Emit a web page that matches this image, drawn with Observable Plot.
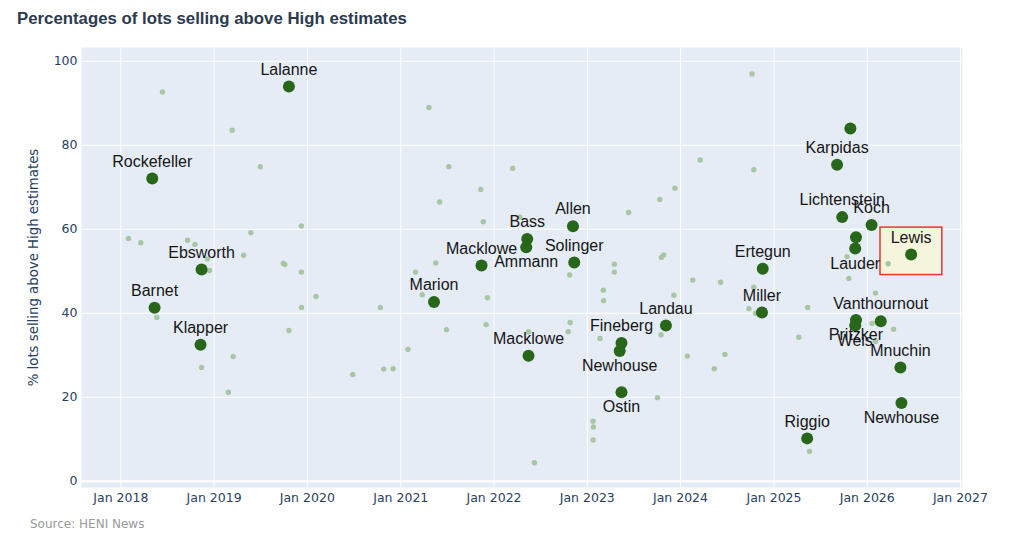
<!DOCTYPE html>
<html><head><meta charset="utf-8">
<script src="https://cdn.jsdelivr.net/npm/d3@7"></script>
<script src="https://cdn.jsdelivr.net/npm/@observablehq/plot@0.6"></script>
<style>
body{margin:0;background:#fff;width:1024px;height:542px;position:relative;overflow:hidden;font-family:"Liberation Sans",Arial,sans-serif}
#title{position:absolute;left:17px;top:9px;font-weight:bold;font-size:16.8px;color:#2c3a4e;white-space:nowrap}
#chart{position:absolute;left:0;top:38px}
#caption{position:absolute;left:30px;top:517px;font-family:"DejaVu Sans",sans-serif;font-size:12px;color:#9a9a9a}
</style></head>
<body>
<div id="title">Percentages of lots selling above High estimates</div>
<div id="chart"></div>
<div id="caption">Source: HENI News</div>
<script>
// Highlighted (labelled) sales
const bigNames = ["Rockefeller","Barnet","Ebsworth","Klapper","Lalanne","Marion","Macklowe","Bass","Ammann","Allen","Solinger","Macklowe","Fineberg","Newhouse","Ostin","Landau","Ertegun","Miller","Riggio","","Karpidas","Lichtenstein","Koch","","Lauder","Lewis","Pritzker","Weis","Vanthournout","Mnuchin","Newhouse"];
const bigDates = ["2018-05-04","2018-05-13","2018-11-13","2018-11-09","2019-10-21","2021-05-11","2021-11-13","2022-05-11","2022-05-07","2022-11-06","2022-11-11","2022-05-16","2023-05-15","2023-05-08","2023-05-15","2023-11-05","2024-11-18","2024-11-15","2025-05-11","2025-10-27","2025-09-05","2025-09-25","2026-01-18","2025-11-18","2025-11-15","2026-06-22","2025-11-18","2025-11-15","2026-02-23","2026-05-11","2026-05-15"];
const bigValues = [72.1,41.3,50.4,32.5,94.0,42.7,51.4,57.7,55.7,60.7,52.1,29.9,32.9,31.0,21.2,37.1,50.6,40.2,10.2,84.0,75.4,62.9,61.0,58.1,55.4,54.0,38.4,37.1,38.1,27.1,18.6];
const belowNames = ["Ammann","Newhouse","Ostin","Lauder","Pritzker","Weis"];
const highlightName = "Lewis";

// Other sales
const smallDates = ["2018-06-13","2019-03-13","2019-07-01","2019-12-09","2019-05-25","2018-01-31","2018-03-20","2018-09-19","2018-10-18","2019-04-27","2018-12-06","2018-12-14","2019-09-29","2019-10-05","2019-12-09","2020-02-04","2019-12-09","2020-10-13","2019-10-21","2018-05-22","2019-03-17","2018-11-13","2019-02-26","2020-06-27","2020-10-26","2020-12-02","2021-04-21","2021-07-08","2022-03-15","2021-11-10","2021-06-02","2021-11-20","2022-04-12","2023-06-12","2023-10-12","2023-12-10","2024-03-18","2021-05-18","2023-10-18","2023-10-27","2023-04-17","2021-02-28","2023-04-17","2022-10-24","2021-03-26","2021-12-06","2023-03-05","2023-03-06","2024-02-18","2023-12-06","2024-06-06","2021-06-29","2021-12-01","2022-05-16","2022-10-26","2022-10-18","2023-02-20","2023-10-17","2021-01-29","2024-01-28","2024-05-12","2023-10-03","2023-01-24","2023-01-25","2023-01-24","2022-06-08","2024-10-07","2024-10-14","2025-10-14","2026-03-24","2025-10-21","2026-02-02","2024-10-14","2024-09-25","2024-10-21","2025-05-13","2026-01-20","2026-04-14","2026-02-02","2025-04-08","2024-06-23","2025-05-20"];
const smallValues = [92.7,83.6,74.9,60.8,59.2,57.8,56.8,57.4,56.4,53.8,52.9,50.2,51.9,51.6,49.8,44.0,41.4,41.4,35.9,39.0,29.7,27.1,21.2,25.4,26.7,26.8,89.0,74.9,74.5,69.5,66.5,61.8,62.9,64.0,67.1,69.8,76.5,52.0,53.3,53.9,51.7,49.8,49.8,49.1,44.4,43.7,45.5,43.0,47.9,44.3,47.4,36.1,37.3,35.6,37.8,35.6,34.0,34.9,31.4,29.8,26.8,19.9,14.3,12.9,9.8,4.4,97.0,74.2,53.5,51.8,48.3,44.8,46.2,41.1,40.0,41.4,37.6,36.2,33.3,34.3,30.2,7.1];

// Axes
const xTickDates = ["2018-01-01","2019-01-01","2020-01-01","2021-01-01","2022-01-01","2023-01-01","2024-01-01","2025-01-01","2026-01-01","2027-01-01"];
const xDomain = ["2017-07-31","2027-01-09"];
const yTicks = [0,20,40,60,80,100];
const yDomain = [-1.5,103.3];
const yLabel = "% lots selling above High estimates";

const parse = s => new Date(s + "T00:00:00Z");
const big = bigNames.map((n,i) => ({name:n, date:parse(bigDates[i]), value:bigValues[i]}));
const small = smallDates.map((d,i) => ({date:parse(d), value:smallValues[i]}));
const xTicks = xTickDates.map(parse);
const hl = big.filter(d => d.name === highlightName).map(d => ({
  x1: d3.utcMonth.offset(d.date,-4), x2: d3.utcMonth.offset(d.date,4), y1: d.value-4.9, y2: d.value+6.4
}));

const chart = Plot.plot({
  width: 1024, height: 480,
  marginLeft: 81, marginRight: 62, marginTop: 9, marginBottom: 31,
  style: {fontFamily: "DejaVu Sans, sans-serif", fontSize: "12.5px", color: "#2a3f5f", background: "transparent"},
  x: {type: "utc", domain: xDomain.map(parse), ticks: xTicks, tickFormat: d3.utcFormat("%b %Y"), tickSize: 0, tickPadding: 6, label: null},
  y: {domain: yDomain, ticks: yTicks, tickSize: 0, tickPadding: 4, label: null},
  marks: [
    Plot.frame({fill: "#E5ECF6", stroke: null}),
    Plot.ruleX(xTicks, {x: d => d, stroke: "white", strokeWidth: 1}),
    Plot.ruleY(yTicks.filter(v => v !== 0), {y: d => d, stroke: "white", strokeWidth: 1}),
    Plot.ruleY([0], {y: d => d, stroke: "white", strokeWidth: 2}),
    Plot.rect(hl, {x1: "x1", x2: "x2", y1: "y1", y2: "y2", fill: "#f5f4dc", stroke: "#e2382d", strokeWidth: 1.5}),
    Plot.dot(small, {x: "date", y: "value", r: 2.7, fill: "#a8c6a3"}),
    Plot.dot(big, {x: "date", y: "value", r: 6, fill: "#28661a"}),
    Plot.text(big.filter(d => d.name && !belowNames.includes(d.name)), {x: "date", y: "value", text: "name", dy: -17, fontSize: 16, fontFamily: "Liberation Sans, Arial, sans-serif", fill: "#151515"}),
    Plot.text(big.filter(d => belowNames.includes(d.name)), {x: "date", y: "value", text: "name", dy: 15, fontSize: 16, fontFamily: "Liberation Sans, Arial, sans-serif", fill: "#151515"}),
    Plot.text([yLabel], {frameAnchor: "left", textAnchor: "middle", dx: -48, rotate: -90, text: d => d, fontSize: 13.3, fill: "#2a3f5f"})
  ]
});
document.getElementById("chart").appendChild(chart);
</script>
</body></html>
